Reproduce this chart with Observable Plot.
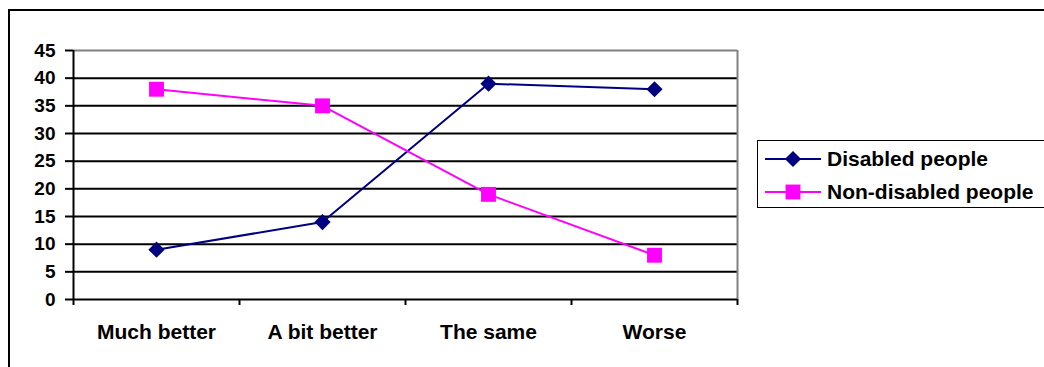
<!DOCTYPE html>
<html>
<head>
<meta charset="utf-8">
<script src="https://cdn.jsdelivr.net/npm/d3@7"></script>
<script src="https://cdn.jsdelivr.net/npm/@observablehq/plot@0.6"></script>
<style>
  body { margin: 0; background: #fff; }
  #wrap { position: relative; width: 1044px; height: 367px; overflow: hidden;
          font-family: "Liberation Sans", Arial, sans-serif; font-weight: bold; }
  #frame { position: absolute; left: 8px; top: 9px; width: 1100px; height: 400px;
           border: 2px solid #000; box-sizing: border-box; }
  #chart { position: absolute; left: 0; top: 0; }
  #legend { position: absolute; left: 757px; top: 140px; width: 320px; height: 68px;
            border: 1.5px solid #000; box-sizing: border-box; background: #fff; }
  .row { position: absolute; left: 7px; height: 20px; display: flex; align-items: center;
         font-size: 21px; color: #000; white-space: nowrap; }
  .row svg { margin-right: 6px; }
</style>
</head>
<body>
<div id="wrap">
  <div id="frame"></div>
  <div id="chart"></div>
  <div id="legend"></div>
</div>
<script>
// Survey categories and the share (%) of each group choosing them
const categories = ["Much better", "A bit better", "The same", "Worse"];
const disabled = [9, 14, 39, 38];
const nonDisabled = [38, 35, 19, 8];
const seriesNames = ["Disabled people", "Non-disabled people"];
const seriesColors = ["#000080", "#FF00FF"];
const seriesSymbols = ["diamond2", "square"];
const yTicks = [0, 5, 10, 15, 20, 25, 30, 35, 40, 45];

// Long table: each category sits in the middle of its unit slot on x
const rows = [
  ...categories.map((c, i) => ({series: seriesNames[0], xi: i + 0.5, value: disabled[i]})),
  ...categories.map((c, i) => ({series: seriesNames[1], xi: i + 0.5, value: nonDisabled[i]}))
];
const slotEdges = d3.range(categories.length + 1);
const slotCenters = categories.map((c, i) => i + 0.5);

const chart = Plot.plot({
  width: 1044,
  height: 367,
  marginLeft: 73,
  marginRight: 307,
  marginTop: 50,
  marginBottom: 68,
  style: {fontFamily: "'Liberation Sans', Arial, sans-serif", fontWeight: "bold", color: "#000", background: "transparent"},
  x: {domain: [0, categories.length], axis: null},
  y: {domain: [0, 45], axis: null},
  color: {domain: seriesNames, range: seriesColors},
  symbol: {domain: seriesNames, range: seriesSymbols},
  marks: [
    // inner gridlines
    Plot.ruleY(yTicks.filter(v => v > 0 && v < 45), {stroke: "#000", strokeWidth: 2}),
    // grey plot-area border on top and right
    Plot.ruleY([45], {stroke: "#808080", strokeWidth: 2}),
    Plot.ruleX([categories.length], {stroke: "#808080", strokeWidth: 2}),
    // value axis
    Plot.axisY({ticks: yTicks, tickSize: 8, tickPadding: 10, strokeWidth: 2, fontSize: 19, label: null, strokeOpacity: 1}),
    Plot.ruleX([0], {stroke: "#000", strokeWidth: 2}),
    Plot.ruleY([0], {stroke: "#000", strokeWidth: 2}),
    // category axis: ticks at slot edges, labels at slot centers
    Plot.axisX({ticks: slotEdges, tickSize: 6, strokeWidth: 2, tickFormat: () => "", label: null, strokeOpacity: 1}),
    Plot.axisX({ticks: slotCenters, tickSize: 0, tickPadding: 25, fontSize: 21, label: null,
                tickFormat: d => categories[Math.floor(d)]}),
    // series
    Plot.line(rows, {x: "xi", y: "value", z: "series", stroke: "series", strokeWidth: 2}),
    Plot.dot(rows.filter(d => d.series === seriesNames[0]), {x: "xi", y: "value", symbol: "series", fill: "series", r: 7.3, stroke: "none"}),
    Plot.dot(rows.filter(d => d.series === seriesNames[1]), {x: "xi", y: "value", symbol: "series", fill: "series", r: 8.4, stroke: "none"})
  ]
});
document.getElementById("chart").appendChild(chart);

// Legend: line with marker, then series name
const legend = document.getElementById("legend");
const rowTops = [8, 41];
seriesNames.forEach((name, i) => {
  const row = document.createElement("div");
  row.className = "row";
  row.style.top = rowTops[i] + "px";
  const sw = d3.create("svg").attr("width", 56).attr("height", 18);
  sw.append("line").attr("x1", 0).attr("x2", 56).attr("y1", 9).attr("y2", 9)
    .attr("stroke", seriesColors[i]).attr("stroke-width", 2);
  const sym = d3.symbol(i === 0 ? d3.symbolDiamond2 : d3.symbolSquare, i === 0 ? Math.PI * 7.3 * 7.3 : Math.PI * 8.4 * 8.4);
  sw.append("path").attr("d", sym()).attr("transform", "translate(28,9)").attr("fill", seriesColors[i]);
  row.appendChild(sw.node());
  row.appendChild(document.createTextNode(name));
  legend.appendChild(row);
});
</script>
</body>
</html>
